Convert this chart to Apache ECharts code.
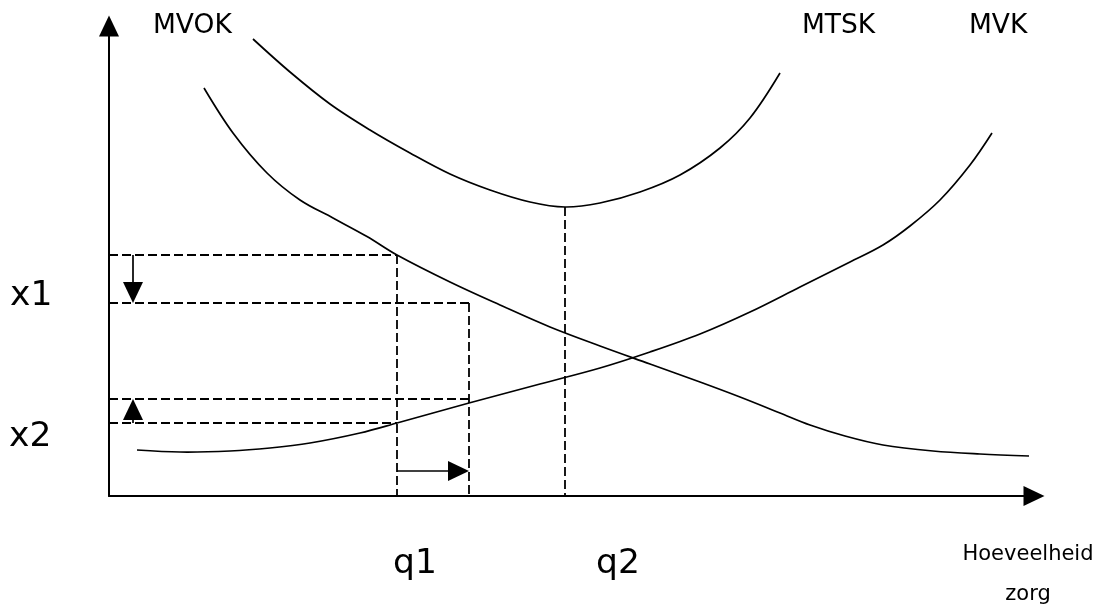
<!DOCTYPE html>
<html><head><meta charset="utf-8">
<script src="https://cdn.jsdelivr.net/npm/echarts@6/dist/echarts.min.js"></script>
<style>html,body{margin:0;padding:0;background:#fff}#c{width:1096px;height:608px}</style>
</head><body><div id="c"></div>
<script>
// Curve values (quantity of care vs cost)
const mvokX = [95,124,158,191,224,258,288,341,391,441,491,541,591,631,671,701,736,774,824,871,920];
const mvokY = [408,363,323,296,278,259.5,241,214,191,169,150,132,114,99,83,71,60,51,45,42,40];
const mtskX = [144,181,221,261,301,341,381,421,456,491,531,571,611,641,671];
const mtskY = [457,424,392,366,343,322,306,294,289,293,304,321,348,378,423];
const mvkX  = [28,71,121,161,201,251,288,360,431,491,541,591,641,691,741,774,801,831,861,883];
const mvkY  = [46,44,45,48,53,63,73,93,112,128,144,162,184,209,234,251,270,296,331,363];

// key quantities and levels
const qValues = [288, 360, 456];        // q1, shifted q1, q2
const levelValues = [241, 193, 97, 73]; // x1 (old,new), x2 (new,old)
const curveLabels = ['MVOK', 'MTSK', 'MVK'];
const axisLabels = ['x1', 'x2', 'q1', 'q2'];
const xAxisTitle = ['Hoeveelheid', 'zorg'];

const zip = (xs, ys) => xs.map((x, i) => [x, ys[i]]);

const guides = [
  [[0, levelValues[0]], [qValues[0], levelValues[0]]],
  [[qValues[0], levelValues[0]], [qValues[0], 0]],
  [[0, levelValues[1]], [qValues[1], levelValues[1]]],
  [[qValues[1], levelValues[1]], [qValues[1], 0]],
  [[0, levelValues[2]], [qValues[1], levelValues[2]]],
  [[0, levelValues[3]], [qValues[0], levelValues[3]]],
  [[qValues[2], mtskY[8]], [qValues[2], 0]]
];
const arrows = [
  [24, levelValues[0], 24, levelValues[1]],
  [24, levelValues[3], 24, levelValues[2]],
  [qValues[0], 25, qValues[1], 25]
];

const FONT = '"DejaVu Sans", Verdana, sans-serif';

// smooth curve through all points of the series, mapped by the axes
function curve(name, data) {
  return { name, type: 'custom', silent: true, data, encode: { x: 0, y: 1 },
    renderItem(params, api) {
      if (params.dataIndexInside !== 0) return null;
      const pts = [];
      for (let i = 0; i < params.dataInsideLength; i++) {
        pts.push(api.coord([api.value(0, i), api.value(1, i)]));
      }
      return { type: 'polyline', shape: { points: pts, smooth: 0.35 },
        style: { stroke: '#000', lineWidth: 1.7, fill: null } };
    } };
}
function txt(text, x, y, size, align) {
  return { type: 'text', x, y, style: { text, fontFamily: FONT, fontSize: size,
    fill: '#000', align: align || 'left', verticalAlign: 'middle' } };
}

const chart = echarts.init(document.getElementById('c'), null, { renderer: 'canvas' });
chart.setOption({
  animation: false,
  backgroundColor: '#fff',
  grid: { left: 109, right: 62, top: 26, bottom: 112, outerBoundsMode: 'none' },
  xAxis: { type: 'value', min: 0, max: 925,
    axisLine: { show: true, symbol: ['none', 'triangle'], symbolSize: [20, 21],
      lineStyle: { color: '#000', width: 2 } },
    axisTick: { show: false }, axisLabel: { show: false }, splitLine: { show: false } },
  yAxis: { type: 'value', min: 0, max: 470,
    axisLine: { show: true, symbol: ['none', 'triangle'], symbolSize: [20, 21],
      lineStyle: { color: '#000', width: 2 } },
    axisTick: { show: false }, axisLabel: { show: false }, splitLine: { show: false } },
  series: [
    { type: 'lines', coordinateSystem: 'cartesian2d', silent: true,
      lineStyle: { color: '#000', width: 1.8, type: [9, 4], opacity: 1 },
      data: guides.map(c => ({ coords: c })) },
    curve(curveLabels[0], zip(mvokX, mvokY)),
    curve(curveLabels[1], zip(mtskX, mtskY)),
    curve(curveLabels[2], zip(mvkX, mvkY)),
    { type: 'custom', silent: true, data: arrows, encode: { x: [0, 2], y: [1, 3] },
      renderItem(params, api) {
        const p0 = api.coord([api.value(0), api.value(1)]);
        const p1 = api.coord([api.value(2), api.value(3)]);
        const dx = p1[0] - p0[0], dy = p1[1] - p0[1];
        const L = Math.hypot(dx, dy), ux = dx / L, uy = dy / L;
        const hl = 21, hw = 10;
        const bx = p1[0] - ux * hl, by = p1[1] - uy * hl;
        return { type: 'group', children: [
          { type: 'line', shape: { x1: p0[0], y1: p0[1], x2: bx, y2: by },
            style: { stroke: '#000', lineWidth: 1.7 } },
          { type: 'polygon', shape: { points: [[p1[0], p1[1]], [bx - uy * hw, by + ux * hw], [bx + uy * hw, by - ux * hw]] },
            style: { fill: '#000' } }
        ] };
      } }
  ],
  graphic: [
    txt(curveLabels[0], 153, 26, 26.5),
    txt(curveLabels[1], 802, 26, 26.5),
    txt(curveLabels[2], 969, 26, 26.5),
    txt(axisLabels[0], 10, 296, 34.5),
    txt(axisLabels[1], 9, 437, 34.5),
    txt(axisLabels[2], 393, 564, 34.5),
    txt(axisLabels[3], 596, 564, 34.5),
    txt(xAxisTitle[0], 1028, 555, 21, 'center'),
    txt(xAxisTitle[1], 1028, 595, 21, 'center')
  ]
});
</script>
</body></html>
